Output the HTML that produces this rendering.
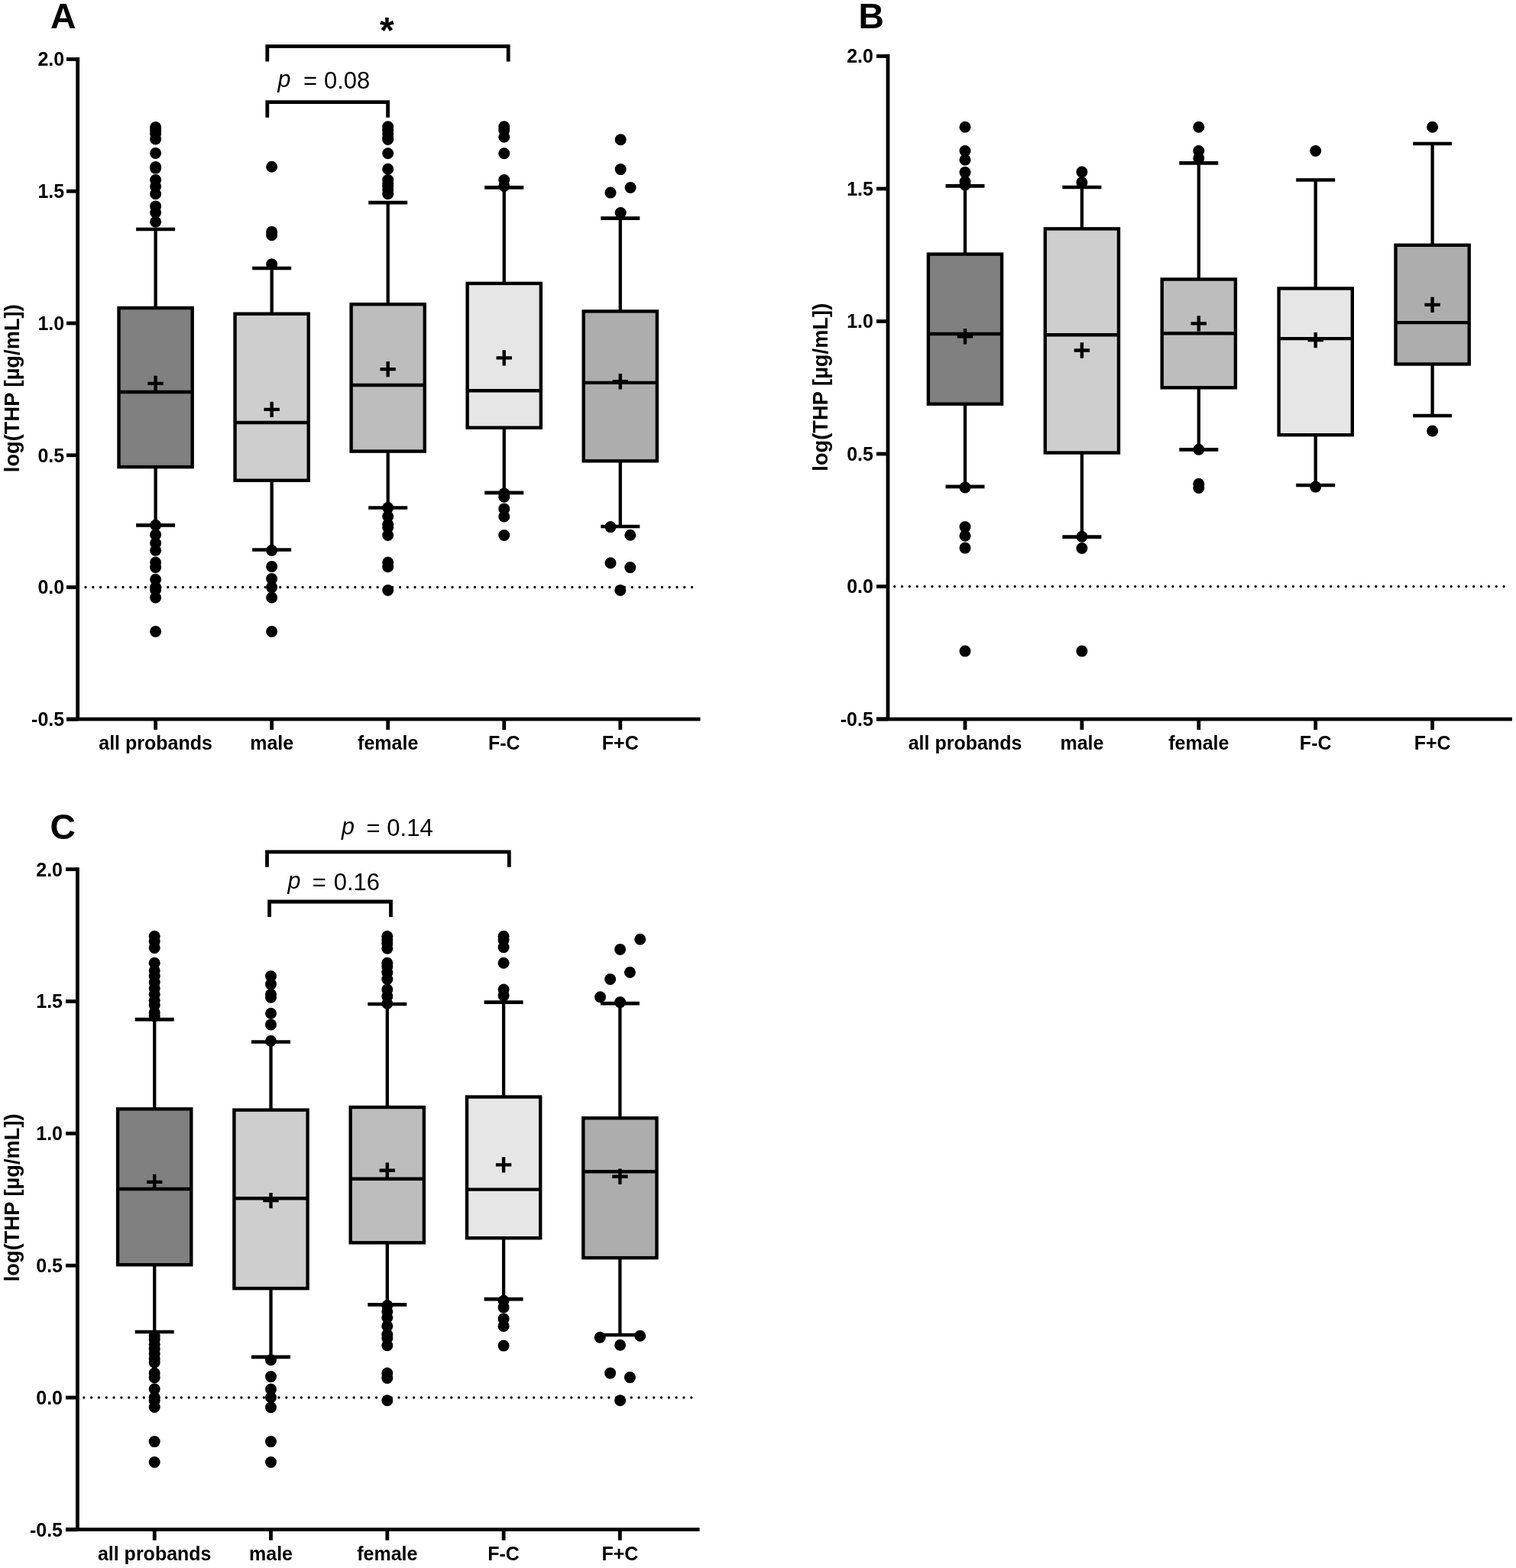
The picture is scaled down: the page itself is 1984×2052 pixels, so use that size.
<!DOCTYPE html>
<html><head><meta charset="utf-8"><title>log(THP) box plots</title>
<style>
html,body{margin:0;padding:0;background:#fff;}
svg{display:block;}
text{font-family:"Liberation Sans",Arial,sans-serif;fill:#000;}
.tk{font-size:25px;font-weight:bold;}
.cat{font-size:25px;font-weight:bold;}
.let{font-size:46.3px;font-weight:bold;}
.yt{font-size:27.3px;font-weight:bold;}
.pv{font-size:31px;}
.pi{font-style:italic;font-size:30.5px;}
.ast{font-size:48px;font-weight:bold;text-anchor:middle;}
</style></head>
<body>
<svg width="1984" height="2052" viewBox="0 0 1984 2052">
<rect width="1984" height="2052" fill="#fff"/>
<g id="panelA"><line x1="112" y1="768.5" x2="906.6" y2="768.5" stroke="#000" stroke-width="3.3" stroke-linecap="round" stroke-dasharray="0 9.7975"/>
<path d="M101.7 75.1V941.1" stroke="#000" stroke-width="4.8" fill="none"/>
<path d="M87 941.1H916.5" stroke="#000" stroke-width="4.8" fill="none"/>
<path d="M87 77.5H101.7" stroke="#000" stroke-width="4.8" fill="none"/>
<text class="tk" x="84.2" y="86.4" text-anchor="end">2.0</text>
<path d="M87 250.25H101.7" stroke="#000" stroke-width="4.8" fill="none"/>
<text class="tk" x="84.2" y="259.15" text-anchor="end">1.5</text>
<path d="M87 423H101.7" stroke="#000" stroke-width="4.8" fill="none"/>
<text class="tk" x="84.2" y="431.9" text-anchor="end">1.0</text>
<path d="M87 595.75H101.7" stroke="#000" stroke-width="4.8" fill="none"/>
<text class="tk" x="84.2" y="604.65" text-anchor="end">0.5</text>
<path d="M87 768.5H101.7" stroke="#000" stroke-width="4.8" fill="none"/>
<text class="tk" x="84.2" y="777.4" text-anchor="end">0.0</text>
<path d="M87 941.25H101.7" stroke="#000" stroke-width="4.8" fill="none"/>
<text class="tk" x="84.2" y="950.15" text-anchor="end">-0.5</text>
<path d="M203.6 941.1V955.1" stroke="#000" stroke-width="4.8" fill="none"/>
<text class="cat" x="203.6" y="980.5" text-anchor="middle">all probands</text>
<path d="M355.65 941.1V955.1" stroke="#000" stroke-width="4.8" fill="none"/>
<text class="cat" x="355.65" y="980.5" text-anchor="middle">male</text>
<path d="M507.7 941.1V955.1" stroke="#000" stroke-width="4.8" fill="none"/>
<text class="cat" x="507.7" y="980.5" text-anchor="middle">female</text>
<path d="M659.75 941.1V955.1" stroke="#000" stroke-width="4.8" fill="none"/>
<text class="cat" x="659.75" y="980.5" text-anchor="middle">F-C</text>
<path d="M811.8 941.1V955.1" stroke="#000" stroke-width="4.8" fill="none"/>
<text class="cat" x="811.8" y="980.5" text-anchor="middle">F+C</text>
<path d="M203.6 300V403M203.6 611.1V687.4" stroke="#000" stroke-width="4.3" fill="none"/>
<path d="M178.1 300H229.1M178.1 687.4H229.1" stroke="#000" stroke-width="4.7" fill="none"/>
<rect x="155.5" y="403" width="96.2" height="208.1" fill="#808080" stroke="#000" stroke-width="4.4"/>
<path d="M155.5 513H251.7" stroke="#000" stroke-width="4.4" fill="none"/>
<path d="M193.4 501.9H213.8M203.6 491.7V512.1" stroke="#000" stroke-width="4.4" fill="none"/>
<circle cx="203.6" cy="166.5" r="7.5"/>
<circle cx="203.6" cy="170.5" r="7.5"/>
<circle cx="203.6" cy="175" r="7.5"/>
<circle cx="203.6" cy="182" r="7.5"/>
<circle cx="203.6" cy="200.4" r="7.5"/>
<circle cx="203.6" cy="218.5" r="7.5"/>
<circle cx="203.6" cy="220.1" r="7.5"/>
<circle cx="203.6" cy="235.6" r="7.5"/>
<circle cx="203.6" cy="244" r="7.5"/>
<circle cx="203.6" cy="253.8" r="7.5"/>
<circle cx="203.6" cy="269.9" r="7.5"/>
<circle cx="203.6" cy="278" r="7.5"/>
<circle cx="203.6" cy="290.3" r="7.5"/>
<circle cx="203.6" cy="687.2" r="7.5"/>
<circle cx="203.6" cy="699.7" r="7.5"/>
<circle cx="203.6" cy="710.8" r="7.5"/>
<circle cx="203.6" cy="720.3" r="7.5"/>
<circle cx="203.6" cy="736.1" r="7.5"/>
<circle cx="203.6" cy="742.5" r="7.5"/>
<circle cx="203.6" cy="758.3" r="7.5"/>
<circle cx="203.6" cy="768.6" r="7.5"/>
<circle cx="203.6" cy="771.8" r="7.5"/>
<circle cx="203.6" cy="782" r="7.5"/>
<circle cx="203.6" cy="826.4" r="7.5"/>
<path d="M355.65 351V410.7M355.65 628.7V719.5" stroke="#000" stroke-width="4.3" fill="none"/>
<path d="M330.15 351H381.15M330.15 719.5H381.15" stroke="#000" stroke-width="4.7" fill="none"/>
<rect x="307.55" y="410.7" width="96.2" height="218" fill="#cecece" stroke="#000" stroke-width="4.4"/>
<path d="M307.55 553H403.75" stroke="#000" stroke-width="4.4" fill="none"/>
<path d="M345.45 535.9H365.85M355.65 525.7V546.1" stroke="#000" stroke-width="4.4" fill="none"/>
<circle cx="355.65" cy="218.3" r="7.5"/>
<circle cx="355.65" cy="303.4" r="7.5"/>
<circle cx="355.65" cy="307.8" r="7.5"/>
<circle cx="355.65" cy="345.8" r="7.5"/>
<circle cx="355.65" cy="720.3" r="7.5"/>
<circle cx="355.65" cy="741.4" r="7.5"/>
<circle cx="355.65" cy="757.5" r="7.5"/>
<circle cx="355.65" cy="768.6" r="7.5"/>
<circle cx="355.65" cy="782" r="7.5"/>
<circle cx="355.65" cy="826.4" r="7.5"/>
<path d="M507.7 265.1V398.2M507.7 590.6V664.5" stroke="#000" stroke-width="4.3" fill="none"/>
<path d="M482.2 265.1H533.2M482.2 664.5H533.2" stroke="#000" stroke-width="4.7" fill="none"/>
<rect x="459.6" y="398.2" width="96.2" height="192.4" fill="#bdbdbd" stroke="#000" stroke-width="4.4"/>
<path d="M459.6 504H555.8" stroke="#000" stroke-width="4.4" fill="none"/>
<path d="M497.5 483.1H517.9M507.7 472.9V493.3" stroke="#000" stroke-width="4.4" fill="none"/>
<circle cx="507.7" cy="165.8" r="7.5"/>
<circle cx="507.7" cy="170.6" r="7.5"/>
<circle cx="507.7" cy="175" r="7.5"/>
<circle cx="507.7" cy="180.1" r="7.5"/>
<circle cx="507.7" cy="182.5" r="7.5"/>
<circle cx="507.7" cy="200.7" r="7.5"/>
<circle cx="507.7" cy="221.2" r="7.5"/>
<circle cx="507.7" cy="235.5" r="7.5"/>
<circle cx="507.7" cy="240" r="7.5"/>
<circle cx="507.7" cy="243.4" r="7.5"/>
<circle cx="507.7" cy="248" r="7.5"/>
<circle cx="507.7" cy="253.7" r="7.5"/>
<circle cx="507.7" cy="664.6" r="7.5"/>
<circle cx="507.7" cy="675.7" r="7.5"/>
<circle cx="507.7" cy="686.3" r="7.5"/>
<circle cx="507.7" cy="690.2" r="7.5"/>
<circle cx="507.7" cy="700.5" r="7.5"/>
<circle cx="507.7" cy="736.1" r="7.5"/>
<circle cx="507.7" cy="741.7" r="7.5"/>
<circle cx="507.7" cy="772.5" r="7.5"/>
<path d="M659.75 245.3V370.9M659.75 559.7V644.9" stroke="#000" stroke-width="4.3" fill="none"/>
<path d="M634.25 245.3H685.25M634.25 644.9H685.25" stroke="#000" stroke-width="4.7" fill="none"/>
<rect x="611.65" y="370.9" width="96.2" height="188.8" fill="#e6e6e6" stroke="#000" stroke-width="4.4"/>
<path d="M611.65 511.2H707.85" stroke="#000" stroke-width="4.4" fill="none"/>
<path d="M649.55 468.4H669.95M659.75 458.2V478.6" stroke="#000" stroke-width="4.4" fill="none"/>
<circle cx="659.75" cy="165.8" r="7.5"/>
<circle cx="659.75" cy="170.6" r="7.5"/>
<circle cx="659.75" cy="179.3" r="7.5"/>
<circle cx="659.75" cy="200.7" r="7.5"/>
<circle cx="659.75" cy="235.5" r="7.5"/>
<circle cx="659.75" cy="243.4" r="7.5"/>
<circle cx="659.75" cy="645.9" r="7.5"/>
<circle cx="659.75" cy="650.3" r="7.5"/>
<circle cx="659.75" cy="665.9" r="7.5"/>
<circle cx="659.75" cy="676" r="7.5"/>
<circle cx="659.75" cy="700.5" r="7.5"/>
<path d="M811.8 285.7V407.4M811.8 603.3V689" stroke="#000" stroke-width="4.3" fill="none"/>
<path d="M786.3 285.7H837.3M786.3 689H837.3" stroke="#000" stroke-width="4.7" fill="none"/>
<rect x="763.7" y="407.4" width="96.2" height="195.9" fill="#adadad" stroke="#000" stroke-width="4.4"/>
<path d="M763.7 500.9H859.9" stroke="#000" stroke-width="4.4" fill="none"/>
<path d="M801.6 499.2H822M811.8 489V509.4" stroke="#000" stroke-width="4.4" fill="none"/>
<circle cx="812.2" cy="182.8" r="7.5"/>
<circle cx="812.2" cy="221.6" r="7.5"/>
<circle cx="825.1" cy="245.5" r="7.5"/>
<circle cx="799" cy="252.1" r="7.5"/>
<circle cx="812.2" cy="278.5" r="7.5"/>
<circle cx="799" cy="689.6" r="7.5"/>
<circle cx="824.8" cy="700.3" r="7.5"/>
<circle cx="799" cy="736.8" r="7.5"/>
<circle cx="824.8" cy="742.6" r="7.5"/>
<circle cx="811.8" cy="772.4" r="7.5"/>
<text class="let" x="66" y="36.7">A</text>
<text class="yt" transform="translate(24.9 508.2) rotate(-90)" x="0" y="0" text-anchor="middle">log(THP [µg/mL])</text></g>
<g id="panelB"><line x1="1170.7" y1="767.5" x2="1969.1" y2="767.5" stroke="#000" stroke-width="3.3" stroke-linecap="round" stroke-dasharray="0 9.8444"/>
<path d="M1162 71.1V941.1" stroke="#000" stroke-width="4.8" fill="none"/>
<path d="M1147 941.1H1979" stroke="#000" stroke-width="4.8" fill="none"/>
<path d="M1147 73.5H1162" stroke="#000" stroke-width="4.8" fill="none"/>
<text class="tk" x="1142.9" y="82.4" text-anchor="end">2.0</text>
<path d="M1147 247H1162" stroke="#000" stroke-width="4.8" fill="none"/>
<text class="tk" x="1142.9" y="255.9" text-anchor="end">1.5</text>
<path d="M1147 420.5H1162" stroke="#000" stroke-width="4.8" fill="none"/>
<text class="tk" x="1142.9" y="429.4" text-anchor="end">1.0</text>
<path d="M1147 594H1162" stroke="#000" stroke-width="4.8" fill="none"/>
<text class="tk" x="1142.9" y="602.9" text-anchor="end">0.5</text>
<path d="M1147 767.5H1162" stroke="#000" stroke-width="4.8" fill="none"/>
<text class="tk" x="1142.9" y="776.4" text-anchor="end">0.0</text>
<path d="M1147 941H1162" stroke="#000" stroke-width="4.8" fill="none"/>
<text class="tk" x="1142.9" y="949.9" text-anchor="end">-0.5</text>
<path d="M1263 941.1V955.1" stroke="#000" stroke-width="4.8" fill="none"/>
<text class="cat" x="1263" y="981.4" text-anchor="middle">all probands</text>
<path d="M1415.9 941.1V955.1" stroke="#000" stroke-width="4.8" fill="none"/>
<text class="cat" x="1415.9" y="981.4" text-anchor="middle">male</text>
<path d="M1568.8 941.1V955.1" stroke="#000" stroke-width="4.8" fill="none"/>
<text class="cat" x="1568.8" y="981.4" text-anchor="middle">female</text>
<path d="M1721.7 941.1V955.1" stroke="#000" stroke-width="4.8" fill="none"/>
<text class="cat" x="1721.7" y="981.4" text-anchor="middle">F-C</text>
<path d="M1874.6 941.1V955.1" stroke="#000" stroke-width="4.8" fill="none"/>
<text class="cat" x="1874.6" y="981.4" text-anchor="middle">F+C</text>
<path d="M1263 243.3V332.6M1263 528.7V636.9" stroke="#000" stroke-width="4.3" fill="none"/>
<path d="M1237.5 243.3H1288.5M1237.5 636.9H1288.5" stroke="#000" stroke-width="4.7" fill="none"/>
<rect x="1214.9" y="332.6" width="96.2" height="196.1" fill="#808080" stroke="#000" stroke-width="4.4"/>
<path d="M1214.9 437H1311.1" stroke="#000" stroke-width="4.4" fill="none"/>
<path d="M1252.8 440.3H1273.2M1263 430.1V450.5" stroke="#000" stroke-width="4.4" fill="none"/>
<circle cx="1263" cy="166.3" r="7.5"/>
<circle cx="1263" cy="197.5" r="7.5"/>
<circle cx="1263" cy="209.2" r="7.5"/>
<circle cx="1263" cy="225.6" r="7.5"/>
<circle cx="1263" cy="237.7" r="7.5"/>
<circle cx="1263" cy="241.9" r="7.5"/>
<circle cx="1263" cy="637.9" r="7.5"/>
<circle cx="1263" cy="689.6" r="7.5"/>
<circle cx="1263" cy="701.2" r="7.5"/>
<circle cx="1263" cy="717.1" r="7.5"/>
<circle cx="1263" cy="852.1" r="7.5"/>
<path d="M1415.9 245V299.4M1415.9 592.5V702.7" stroke="#000" stroke-width="4.3" fill="none"/>
<path d="M1390.4 245H1441.4M1390.4 702.7H1441.4" stroke="#000" stroke-width="4.7" fill="none"/>
<rect x="1367.8" y="299.4" width="96.2" height="293.1" fill="#cecece" stroke="#000" stroke-width="4.4"/>
<path d="M1367.8 438.3H1464" stroke="#000" stroke-width="4.4" fill="none"/>
<path d="M1405.7 458.5H1426.1M1415.9 448.3V468.7" stroke="#000" stroke-width="4.4" fill="none"/>
<circle cx="1415.9" cy="225" r="7.5"/>
<circle cx="1415.9" cy="238.7" r="7.5"/>
<circle cx="1415.9" cy="702.3" r="7.5"/>
<circle cx="1415.9" cy="717.5" r="7.5"/>
<circle cx="1415.9" cy="852.1" r="7.5"/>
<path d="M1568.8 213.4V365.5M1568.8 507.3V588.3" stroke="#000" stroke-width="4.3" fill="none"/>
<path d="M1543.3 213.4H1594.3M1543.3 588.3H1594.3" stroke="#000" stroke-width="4.7" fill="none"/>
<rect x="1520.7" y="365.5" width="96.2" height="141.8" fill="#bdbdbd" stroke="#000" stroke-width="4.4"/>
<path d="M1520.7 436.3H1616.9" stroke="#000" stroke-width="4.4" fill="none"/>
<path d="M1558.6 423.4H1579M1568.8 413.2V433.6" stroke="#000" stroke-width="4.4" fill="none"/>
<circle cx="1568.8" cy="166.3" r="7.5"/>
<circle cx="1568.8" cy="197.5" r="7.5"/>
<circle cx="1568.8" cy="207" r="7.5"/>
<circle cx="1568.8" cy="588.3" r="7.5"/>
<circle cx="1568.8" cy="633.2" r="7.5"/>
<circle cx="1568.8" cy="638.4" r="7.5"/>
<path d="M1721.7 235.5V377.5M1721.7 569.2V635" stroke="#000" stroke-width="4.3" fill="none"/>
<path d="M1696.2 235.5H1747.2M1696.2 635H1747.2" stroke="#000" stroke-width="4.7" fill="none"/>
<rect x="1673.6" y="377.5" width="96.2" height="191.7" fill="#e6e6e6" stroke="#000" stroke-width="4.4"/>
<path d="M1673.6 443.1H1769.8" stroke="#000" stroke-width="4.4" fill="none"/>
<path d="M1711.5 445.1H1731.9M1721.7 434.9V455.3" stroke="#000" stroke-width="4.4" fill="none"/>
<circle cx="1721.7" cy="197.5" r="7.5"/>
<circle cx="1721.7" cy="637.1" r="7.5"/>
<path d="M1874.6 188V320.8M1874.6 476.5V544" stroke="#000" stroke-width="4.3" fill="none"/>
<path d="M1849.1 188H1900.1M1849.1 544H1900.1" stroke="#000" stroke-width="4.7" fill="none"/>
<rect x="1826.5" y="320.8" width="96.2" height="155.7" fill="#adadad" stroke="#000" stroke-width="4.4"/>
<path d="M1826.5 422.1H1922.7" stroke="#000" stroke-width="4.4" fill="none"/>
<path d="M1864.4 398.9H1884.8M1874.6 388.7V409.1" stroke="#000" stroke-width="4.4" fill="none"/>
<circle cx="1874.6" cy="166.3" r="7.5"/>
<circle cx="1874.6" cy="564" r="7.5"/>
<text class="let" x="1123.6" y="36.9">B</text>
<text class="yt" transform="translate(1083.2 506.7) rotate(-90)" x="0" y="0" text-anchor="middle">log(THP [µg/mL])</text></g>
<g id="panelC"><line x1="109.8" y1="1829" x2="905.8" y2="1829" stroke="#000" stroke-width="3.3" stroke-linecap="round" stroke-dasharray="0 9.8148"/>
<path d="M101.4 1135.2V2001.7" stroke="#000" stroke-width="4.8" fill="none"/>
<path d="M86 2001.7H915.6" stroke="#000" stroke-width="4.8" fill="none"/>
<path d="M86 1137.6H101.4" stroke="#000" stroke-width="4.8" fill="none"/>
<text class="tk" x="82" y="1146.5" text-anchor="end">2.0</text>
<path d="M86 1310.45H101.4" stroke="#000" stroke-width="4.8" fill="none"/>
<text class="tk" x="82" y="1319.35" text-anchor="end">1.5</text>
<path d="M86 1483.3H101.4" stroke="#000" stroke-width="4.8" fill="none"/>
<text class="tk" x="82" y="1492.2" text-anchor="end">1.0</text>
<path d="M86 1656.15H101.4" stroke="#000" stroke-width="4.8" fill="none"/>
<text class="tk" x="82" y="1665.05" text-anchor="end">0.5</text>
<path d="M86 1829H101.4" stroke="#000" stroke-width="4.8" fill="none"/>
<text class="tk" x="82" y="1837.9" text-anchor="end">0.0</text>
<path d="M86 2001.85H101.4" stroke="#000" stroke-width="4.8" fill="none"/>
<text class="tk" x="82" y="2010.75" text-anchor="end">-0.5</text>
<path d="M202.2 2001.7V2015.7" stroke="#000" stroke-width="4.8" fill="none"/>
<text class="cat" x="202.2" y="2041.8" text-anchor="middle">all probands</text>
<path d="M354.5 2001.7V2015.7" stroke="#000" stroke-width="4.8" fill="none"/>
<text class="cat" x="354.5" y="2041.8" text-anchor="middle">male</text>
<path d="M506.8 2001.7V2015.7" stroke="#000" stroke-width="4.8" fill="none"/>
<text class="cat" x="506.8" y="2041.8" text-anchor="middle">female</text>
<path d="M659.1 2001.7V2015.7" stroke="#000" stroke-width="4.8" fill="none"/>
<text class="cat" x="659.1" y="2041.8" text-anchor="middle">F-C</text>
<path d="M811.4 2001.7V2015.7" stroke="#000" stroke-width="4.8" fill="none"/>
<text class="cat" x="811.4" y="2041.8" text-anchor="middle">F+C</text>
<path d="M202.2 1334.2V1451.3M202.2 1655.2V1743" stroke="#000" stroke-width="4.3" fill="none"/>
<path d="M176.7 1334.2H227.7M176.7 1743H227.7" stroke="#000" stroke-width="4.7" fill="none"/>
<rect x="154.1" y="1451.3" width="96.2" height="203.9" fill="#808080" stroke="#000" stroke-width="4.4"/>
<path d="M154.1 1556H250.3" stroke="#000" stroke-width="4.4" fill="none"/>
<path d="M192 1546.9H212.4M202.2 1536.7V1557.1" stroke="#000" stroke-width="4.4" fill="none"/>
<circle cx="202.2" cy="1225.3" r="7.5"/>
<circle cx="202.2" cy="1231.7" r="7.5"/>
<circle cx="202.2" cy="1240.4" r="7.5"/>
<circle cx="202.2" cy="1260.2" r="7.5"/>
<circle cx="202.2" cy="1270.4" r="7.5"/>
<circle cx="202.2" cy="1277.6" r="7.5"/>
<circle cx="202.2" cy="1285.5" r="7.5"/>
<circle cx="202.2" cy="1293.4" r="7.5"/>
<circle cx="202.2" cy="1301.3" r="7.5"/>
<circle cx="202.2" cy="1309.2" r="7.5"/>
<circle cx="202.2" cy="1315.6" r="7.5"/>
<circle cx="202.2" cy="1325.1" r="7.5"/>
<circle cx="202.2" cy="1329.8" r="7.5"/>
<circle cx="202.2" cy="1748.1" r="7.5"/>
<circle cx="202.2" cy="1752.8" r="7.5"/>
<circle cx="202.2" cy="1759.2" r="7.5"/>
<circle cx="202.2" cy="1765.5" r="7.5"/>
<circle cx="202.2" cy="1771.8" r="7.5"/>
<circle cx="202.2" cy="1778.1" r="7.5"/>
<circle cx="202.2" cy="1782.9" r="7.5"/>
<circle cx="202.2" cy="1797.1" r="7.5"/>
<circle cx="202.2" cy="1802.7" r="7.5"/>
<circle cx="202.2" cy="1817.7" r="7.5"/>
<circle cx="202.2" cy="1828.8" r="7.5"/>
<circle cx="202.2" cy="1832.8" r="7.5"/>
<circle cx="202.2" cy="1841.5" r="7.5"/>
<circle cx="202.2" cy="1886.6" r="7.5"/>
<circle cx="202.2" cy="1913.5" r="7.5"/>
<path d="M354.5 1363.5V1452.6M354.5 1686.1V1775.8" stroke="#000" stroke-width="4.3" fill="none"/>
<path d="M329 1363.5H380M329 1775.8H380" stroke="#000" stroke-width="4.7" fill="none"/>
<rect x="306.4" y="1452.6" width="96.2" height="233.5" fill="#cecece" stroke="#000" stroke-width="4.4"/>
<path d="M306.4 1568.3H402.6" stroke="#000" stroke-width="4.4" fill="none"/>
<path d="M344.3 1571.1H364.7M354.5 1560.9V1581.3" stroke="#000" stroke-width="4.4" fill="none"/>
<circle cx="354.5" cy="1277.6" r="7.5"/>
<circle cx="354.5" cy="1287.9" r="7.5"/>
<circle cx="354.5" cy="1301.3" r="7.5"/>
<circle cx="354.5" cy="1305.3" r="7.5"/>
<circle cx="354.5" cy="1326.2" r="7.5"/>
<circle cx="354.5" cy="1340.9" r="7.5"/>
<circle cx="354.5" cy="1362.3" r="7.5"/>
<circle cx="354.5" cy="1779.7" r="7.5"/>
<circle cx="354.5" cy="1801.6" r="7.5"/>
<circle cx="354.5" cy="1818" r="7.5"/>
<circle cx="354.5" cy="1828.8" r="7.5"/>
<circle cx="354.5" cy="1841.8" r="7.5"/>
<circle cx="354.5" cy="1886.6" r="7.5"/>
<circle cx="354.5" cy="1913.5" r="7.5"/>
<path d="M506.8 1314V1449M506.8 1626.3V1707.3" stroke="#000" stroke-width="4.3" fill="none"/>
<path d="M481.3 1314H532.3M481.3 1707.3H532.3" stroke="#000" stroke-width="4.7" fill="none"/>
<rect x="458.7" y="1449" width="96.2" height="177.3" fill="#bdbdbd" stroke="#000" stroke-width="4.4"/>
<path d="M458.7 1542.8H554.9" stroke="#000" stroke-width="4.4" fill="none"/>
<path d="M496.6 1531.8H517M506.8 1521.6V1542" stroke="#000" stroke-width="4.4" fill="none"/>
<circle cx="506.8" cy="1225.3" r="7.5"/>
<circle cx="506.8" cy="1230.1" r="7.5"/>
<circle cx="506.8" cy="1234.8" r="7.5"/>
<circle cx="506.8" cy="1241.2" r="7.5"/>
<circle cx="506.8" cy="1260.2" r="7.5"/>
<circle cx="506.8" cy="1264.9" r="7.5"/>
<circle cx="506.8" cy="1272.8" r="7.5"/>
<circle cx="506.8" cy="1281.5" r="7.5"/>
<circle cx="506.8" cy="1295" r="7.5"/>
<circle cx="506.8" cy="1303.7" r="7.5"/>
<circle cx="506.8" cy="1313.2" r="7.5"/>
<circle cx="506.8" cy="1708.5" r="7.5"/>
<circle cx="506.8" cy="1716.4" r="7.5"/>
<circle cx="506.8" cy="1724.3" r="7.5"/>
<circle cx="506.8" cy="1735.4" r="7.5"/>
<circle cx="506.8" cy="1746.5" r="7.5"/>
<circle cx="506.8" cy="1751.2" r="7.5"/>
<circle cx="506.8" cy="1760.7" r="7.5"/>
<circle cx="506.8" cy="1797.1" r="7.5"/>
<circle cx="506.8" cy="1803.5" r="7.5"/>
<circle cx="506.8" cy="1832.8" r="7.5"/>
<path d="M659.1 1311.6V1435.5M659.1 1620.2V1700.2" stroke="#000" stroke-width="4.3" fill="none"/>
<path d="M633.6 1311.6H684.6M633.6 1700.2H684.6" stroke="#000" stroke-width="4.7" fill="none"/>
<rect x="611" y="1435.5" width="96.2" height="184.7" fill="#e6e6e6" stroke="#000" stroke-width="4.4"/>
<path d="M611 1556.6H707.2" stroke="#000" stroke-width="4.4" fill="none"/>
<path d="M648.9 1524.4H669.3M659.1 1514.2V1534.6" stroke="#000" stroke-width="4.4" fill="none"/>
<circle cx="659.1" cy="1225.3" r="7.5"/>
<circle cx="659.1" cy="1230.1" r="7.5"/>
<circle cx="659.1" cy="1239.6" r="7.5"/>
<circle cx="659.1" cy="1260.2" r="7.5"/>
<circle cx="659.1" cy="1295" r="7.5"/>
<circle cx="659.1" cy="1302.9" r="7.5"/>
<circle cx="659.1" cy="1702.2" r="7.5"/>
<circle cx="659.1" cy="1710.9" r="7.5"/>
<circle cx="659.1" cy="1725.9" r="7.5"/>
<circle cx="659.1" cy="1735.4" r="7.5"/>
<circle cx="659.1" cy="1761.1" r="7.5"/>
<path d="M811.4 1313.2V1463.2M811.4 1646.1V1747" stroke="#000" stroke-width="4.3" fill="none"/>
<path d="M785.9 1313.2H836.9M785.9 1747H836.9" stroke="#000" stroke-width="4.7" fill="none"/>
<rect x="763.3" y="1463.2" width="96.2" height="182.9" fill="#adadad" stroke="#000" stroke-width="4.4"/>
<path d="M763.3 1533.3H859.5" stroke="#000" stroke-width="4.4" fill="none"/>
<path d="M801.2 1539.8H821.6M811.4 1529.6V1550" stroke="#000" stroke-width="4.4" fill="none"/>
<circle cx="837.7" cy="1229.3" r="7.5"/>
<circle cx="811.6" cy="1242.4" r="7.5"/>
<circle cx="824.4" cy="1272.5" r="7.5"/>
<circle cx="798.6" cy="1281.5" r="7.5"/>
<circle cx="785.5" cy="1304.8" r="7.5"/>
<circle cx="811.6" cy="1311.6" r="7.5"/>
<circle cx="785.2" cy="1750.3" r="7.5"/>
<circle cx="837.7" cy="1748.3" r="7.5"/>
<circle cx="811.6" cy="1760.2" r="7.5"/>
<circle cx="798.6" cy="1796.9" r="7.5"/>
<circle cx="824.4" cy="1802.6" r="7.5"/>
<circle cx="811.6" cy="1832.7" r="7.5"/>
<text class="let" x="65.5" y="1098">C</text>
<text class="yt" transform="translate(24.7 1567.3) rotate(-90)" x="0" y="0" text-anchor="middle">log(THP [µg/mL])</text></g>
<path d="M349.8 80.4V60.6H665.2V80.4" stroke="#000" stroke-width="4.8" fill="none"/>
<path d="M349.8 153.8V133.7H507.6V153.8" stroke="#000" stroke-width="4.8" fill="none"/>
<text class="ast" x="506.4" y="55.7">*</text>
<text class="pv" y="116"><tspan class="pi" x="363.5" dy="-2">p</tspan><tspan x="397" dy="2">=</tspan><tspan x="424">0.08</tspan></text>
<text class="pv" y="1094.2"><tspan class="pi" x="447" dy="-2">p</tspan><tspan x="479.5" dy="2">=</tspan><tspan x="506.3">0.14</tspan></text>
<text class="pv" y="1164.9"><tspan class="pi" x="376.5" dy="-2">p</tspan><tspan x="408.8" dy="2">=</tspan><tspan x="436.7">0.16</tspan></text>
<path d="M349.5 1134.8V1114.8H666.3V1134.8" stroke="#000" stroke-width="4.8" fill="none"/>
<path d="M352.6 1200V1180H511.5V1200" stroke="#000" stroke-width="4.8" fill="none"/>
</svg>
</body></html>
